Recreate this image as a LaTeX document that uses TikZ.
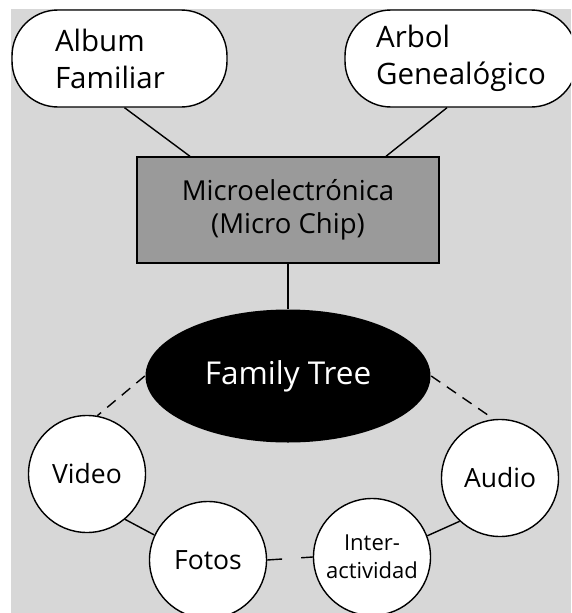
\documentclass[tikz,border=0pt]{standalone}
\usepackage{fontspec}
\setmainfont{Open Sans}
\usepackage{xcolor}
\usetikzlibrary{positioning,calc,shapes.geometric}
\definecolor{bggray}{HTML}{D7D7D7}
\definecolor{chipgray}{HTML}{9A9A9A}

\begin{document}
\begin{tikzpicture}[x=1pt,y=-1pt,line width=1.4pt,
  topic/.style={draw,fill=white,rounded corners=46pt,minimum height=97pt,
    align=left,font=\fontsize{29.5}{37}\selectfont},
  medium/.style={draw,fill=white,circle,minimum size=117pt,inner sep=0pt,
    align=center,font=\fontsize{26.5}{30}\selectfont},
  link/.style={line width=1.4pt},
  dlink/.style={line width=1.4pt,dash pattern=on 11pt off 8pt}]

\clip (0,0) rectangle (571,613);
\fill[white] (0,0) rectangle (571,613);
\fill[bggray] (11,9) rectangle (571,613);

% top sources
\node[topic,minimum width=215pt,text width=129pt] (album) at (119.5,58.5) {Album\\Familiar};
\node[topic,minimum width=232pt] (arbol) at (461,58.5) {Arbol\\Genealógico};

\node[draw,fill=chipgray,minimum width=302pt,minimum height=106pt,
      align=center,font=\fontsize{27.5}{33}\selectfont]
      (chip) at (288,210) {Microelectrónica\\(Micro Chip)};

\node[ellipse,fill=black,text=white,minimum width=285pt,minimum height=133pt,
      inner sep=0pt,font=\fontsize{31.5}{36}\selectfont]
      (tree) at (288,376) {Family Tree};

% media around the tree
\node[medium] (video) at (87,474) {Video};
\node[medium] (fotos) at (208,560) {Fotos};
\node[medium,font=\fontsize{22}{28}\selectfont] (inter) at (372,557) {Inter-\\actividad};
\node[medium] (audio) at (500,478) {Audio};

\draw[link] ([xshift=5pt]album.south) -- ([xshift=-98pt]chip.north);
\draw[link] ([xshift=-14pt]arbol.south) -- ([xshift=98pt]chip.north);
\draw[link] (chip.south) -- (tree.north);
\draw[dlink] (tree.west) -- (video.80);
\draw[dlink] (tree.east) -- (audio.96);
\draw[link] (video.-50) -- (fotos.155);
\draw[link,dash pattern=on 15pt off 19pt] (fotos.east) -- (inter.west);
\draw[link] (inter.21) -- (audio.227);

\end{tikzpicture}
\end{document}
